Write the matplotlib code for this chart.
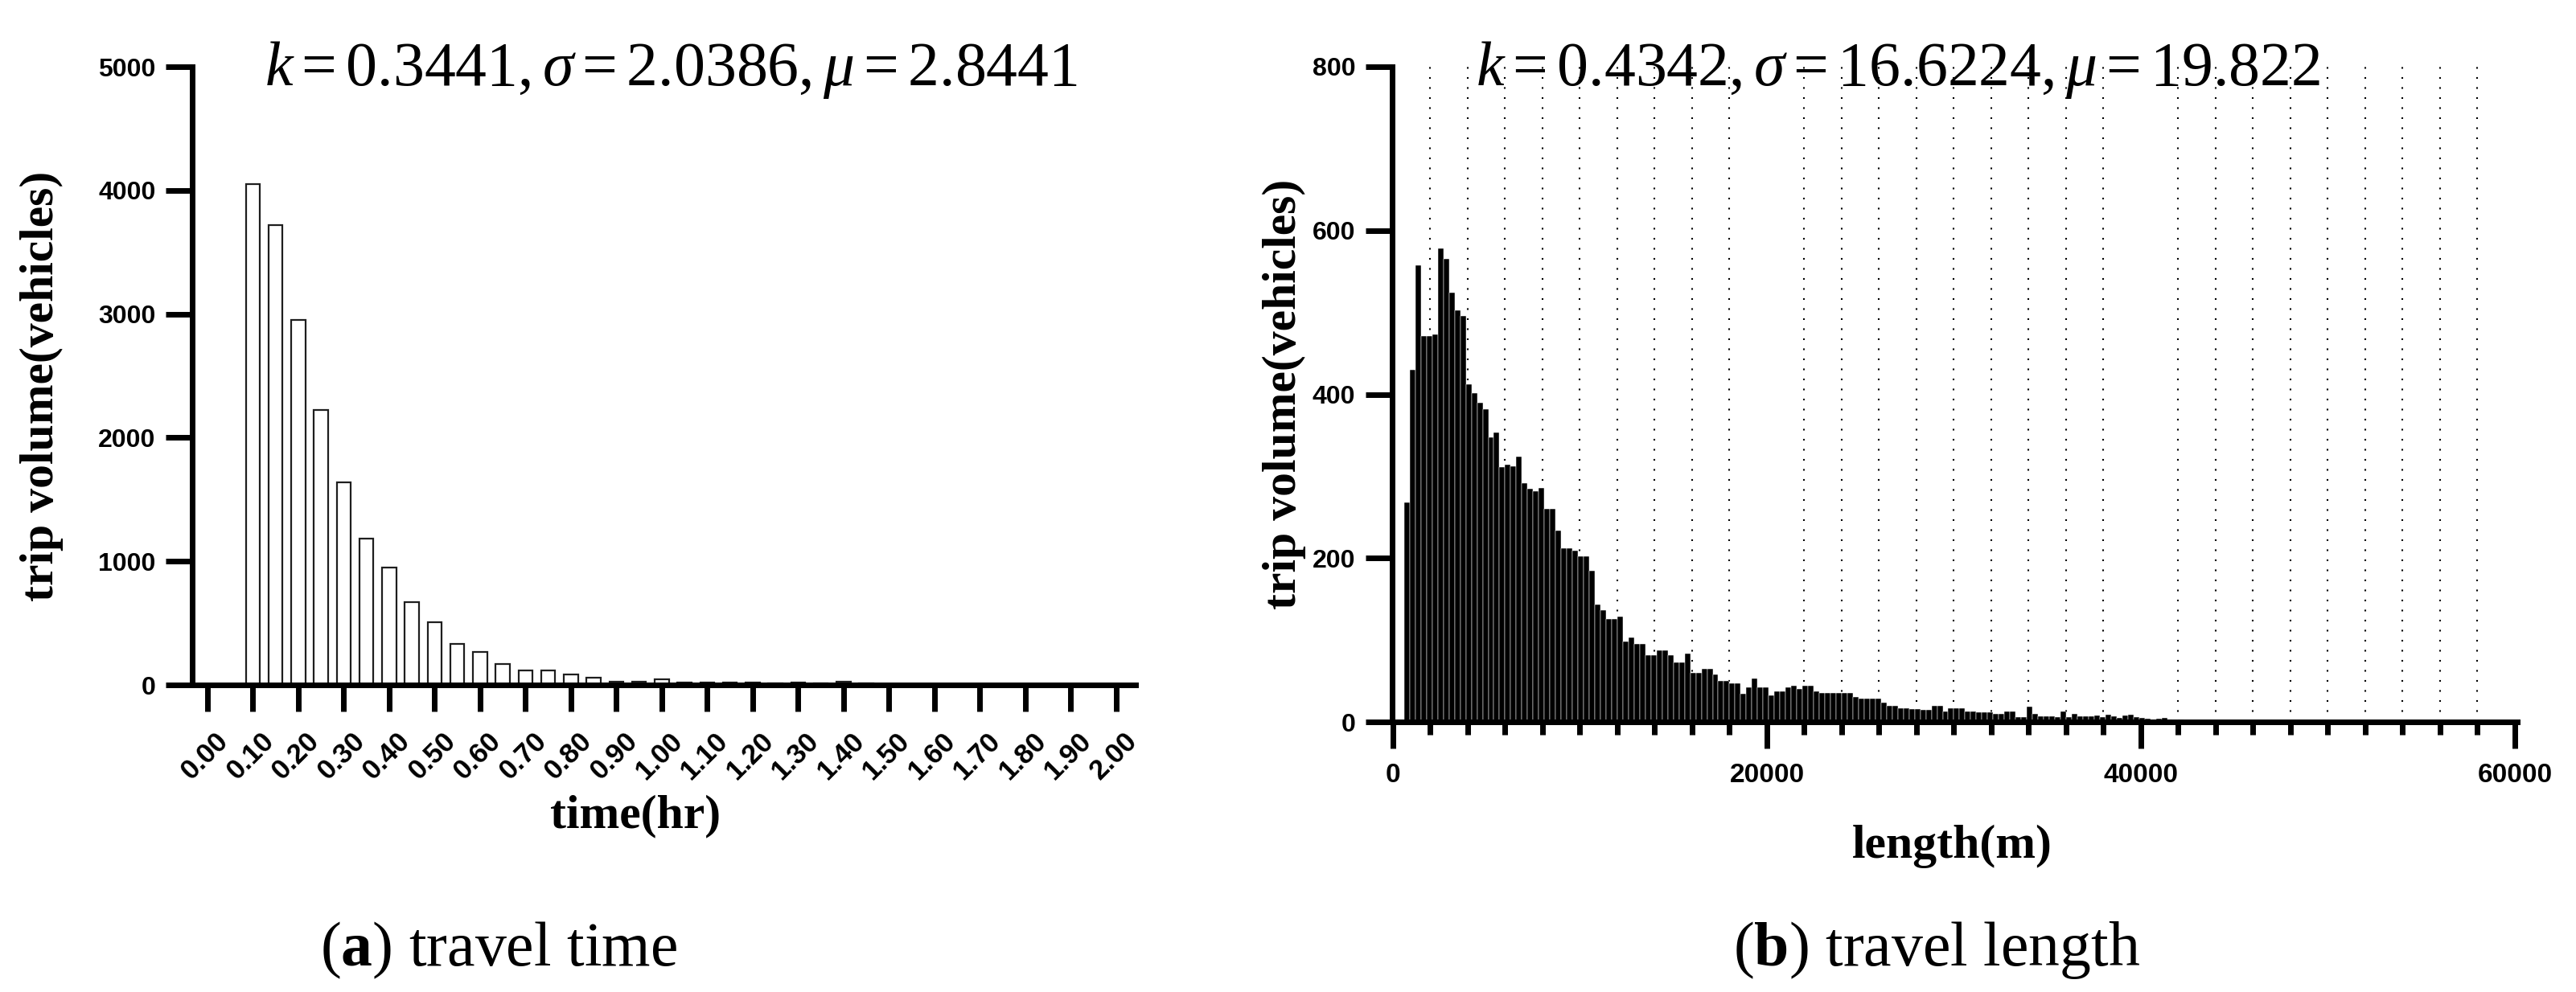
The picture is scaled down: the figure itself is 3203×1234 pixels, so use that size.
import numpy as np
import matplotlib
matplotlib.use("Agg")
import matplotlib.pyplot as plt
from matplotlib.ticker import MultipleLocator, FixedLocator
from matplotlib.transforms import ScaledTranslation

plt.rcParams['font.family'] = ['Liberation Sans', 'DejaVu Sans']
plt.rcParams['mathtext.fontset'] = 'custom'
plt.rcParams['mathtext.rm'] = 'Liberation Serif'
plt.rcParams['mathtext.it'] = 'Liberation Serif:italic'
plt.rcParams['mathtext.bf'] = 'Liberation Serif:bold'

# ---------------- data ----------------
# (a) travel time histogram: bin centres (hr) and trip counts
time_centers = [0.10, 0.15, 0.20, 0.25, 0.30, 0.35, 0.40, 0.45, 0.50, 0.55,
                0.60, 0.65, 0.70, 0.75, 0.80, 0.85, 0.90, 0.95, 1.00, 1.05,
                1.10, 1.15, 1.20, 1.25, 1.30, 1.35, 1.40, 1.45]
time_counts = [4050, 3720, 2950, 2225, 1640, 1185, 950, 670, 505, 330,
               268, 170, 115, 115, 82, 60, 28, 28, 43, 22,
               22, 22, 22, 15, 22, 15, 26, 15]
time_ticks = [round(0.1 * i, 2) for i in range(21)]
time_ticklabels = ["%.2f" % t for t in time_ticks]
time_yticks = [0, 1000, 2000, 3000, 4000, 5000]

# (b) travel length histogram: bins of 300 m starting at 600 m
length_bin_start = 600
length_bin_width = 300
length_counts = [268, 430, 558, 471, 471, 473, 578, 565, 524, 503,
                 496, 412, 401, 390, 382, 347, 353, 311, 314, 312,
                 324, 292, 285, 282, 286, 260, 260, 234, 212, 212,
                 209, 202, 202, 185, 143, 136, 126, 126, 129, 98,
                 103, 95, 95, 81, 81, 87, 87, 81, 73, 73,
                 83, 60, 60, 65, 65, 58, 50, 50, 47, 47,
                 34, 42, 53, 42, 42, 32, 37, 37, 42, 44,
                 40, 44, 44, 37, 35, 35, 35, 35, 35, 35,
                 30, 28, 28, 28, 28, 24, 20, 20, 17, 17,
                 16, 16, 15, 15, 20, 20, 13, 17, 17, 17,
                 13, 13, 12, 12, 12, 10, 10, 13, 13, 6,
                 6, 19, 10, 7, 7, 7, 6, 13, 6, 10,
                 7, 7, 7, 8, 6, 9, 7, 5, 8, 9,
                 6, 5, 4, 3, 4, 5, 3, 2, 3]
length_left_edges = length_bin_start + length_bin_width * np.arange(len(length_counts))
length_major_ticks = [0, 20000, 40000, 60000]
length_yticks = [0, 200, 400, 600, 800]

title_a = r"$k=0.3441,\sigma=2.0386,\mu=2.8441$"
title_b = r"$k=0.4342,\sigma=16.6224,\mu=19.822$"

# ---------------- figure ----------------
W, H = 3203, 1234
fig = plt.figure(figsize=(W / 100, H / 100), dpi=100)


def px_axes(l, t, r, b):
    return fig.add_axes([l / W, 1 - b / H, (r - l) / W, (b - t) / H])


def fx(x):
    return x / W


def fy(y):
    return 1 - y / H


LW = 5.0          # spine / tick width (pt)
MAJ = 23.8        # major tick length (pt)
ytick_font = dict(family=['Liberation Sans', 'DejaVu Sans'], weight='bold', size=23)
xtick_font_a = dict(family=['Liberation Sans', 'DejaVu Sans'], weight='bold', size=25)
xtick_font_b = dict(family=['Liberation Sans', 'DejaVu Sans'], weight='bold', size=24)
label_font = dict(family=['Liberation Serif', 'DejaVu Serif'], weight='bold', size=43)

# ----- panel (a) -----
ax1 = px_axes(239, 83, 1412, 852)
ax1.bar(time_centers, time_counts, width=0.031, facecolor='white',
        edgecolor='#1e1e1e', linewidth=1.6, zorder=2)
ax1.set_xlim(-0.0336, 2.0425)
ax1.set_ylim(0, 5000)
for s in ['top', 'right']:
    ax1.spines[s].set_visible(False)
for s in ['left', 'bottom']:
    ax1.spines[s].set_linewidth(LW)
ax1.xaxis.set_major_locator(FixedLocator(time_ticks))
ax1.set_xticklabels(time_ticklabels, rotation=45, ha='right', va='top',
                    rotation_mode='anchor', **xtick_font_a)
ax1.yaxis.set_major_locator(FixedLocator(time_yticks))
ax1.set_yticklabels([str(v) for v in time_yticks], **ytick_font)
ax1.tick_params(axis='both', direction='out', length=MAJ, width=LW)
ax1.tick_params(axis='x', pad=14)
ax1.tick_params(axis='y', pad=9)
off = ScaledTranslation(9 / 100, 0, fig.dpi_scale_trans)
for lab in ax1.get_xticklabels():
    lab.set_transform(lab.get_transform() + off)

ax1.set_xlabel("time(hr)", **label_font)
ax1.xaxis.set_label_coords(fx(790), fy(1015), transform=fig.transFigure)
ax1.xaxis.label.set_va('center')
ax1.set_ylabel("trip volume(vehicles)", **label_font)
ax1.yaxis.set_label_coords(fx(52), fy(480), transform=fig.transFigure)
ax1.yaxis.label.set_va('center')

fig.text(fx(834), fy(106), title_a, fontsize=56, ha='center', va='baseline')

# ----- panel (b) -----
ax2 = px_axes(1731, 83, 3130, 898)
ax2.bar(length_left_edges, length_counts, width=length_bin_width, align='edge',
        facecolor='black', edgecolor='white', linewidth=0.35, zorder=2)
ax2.set_xlim(-40, 60130)
ax2.set_ylim(0, 800)
for s in ['top', 'right']:
    ax2.spines[s].set_visible(False)
for s in ['left', 'bottom']:
    ax2.spines[s].set_linewidth(LW)
    ax2.spines[s].set_zorder(3)
ax2.xaxis.set_major_locator(FixedLocator(length_major_ticks))
ax2.xaxis.set_minor_locator(MultipleLocator(2000))
ax2.set_xticklabels([str(v) for v in length_major_ticks], **xtick_font_b)
ax2.yaxis.set_major_locator(FixedLocator(length_yticks))
ax2.set_yticklabels([str(v) for v in length_yticks], **ytick_font)
ax2.tick_params(axis='both', which='major', direction='out', length=MAJ, width=LW)
ax2.tick_params(axis='x', which='minor', direction='out', length=11.5, width=LW)
ax2.tick_params(axis='x', which='major', pad=13)
ax2.tick_params(axis='y', pad=9)
ax2.set_axisbelow(True)
ax2.grid(which='minor', axis='x', color='black', linestyle=(0, (1, 5)),
         linewidth=1.5, zorder=1)

ax2.set_xlabel("length(m)", **label_font)
ax2.xaxis.set_label_coords(fx(2427), fy(1053), transform=fig.transFigure)
ax2.xaxis.label.set_va('center')
ax2.set_ylabel("trip volume(vehicles)", **label_font)
ax2.yaxis.set_label_coords(fx(1597), fy(490), transform=fig.transFigure)
ax2.yaxis.label.set_va('center')

fig.text(fx(2360), fy(106), title_b, fontsize=56, ha='center', va='baseline')

# ----- captions -----
cap_font = dict(family=['Liberation Serif', 'DejaVu Serif'], weight='normal', size=56)
fig.text(fx(620), fy(1182), r"$(\mathbf{a})$ travel time", ha='center', va='center', **cap_font)
fig.text(fx(2408), fy(1182), r"$(\mathbf{b})$ travel length", ha='center', va='center', **cap_font)

fig.savefig("out.png", dpi=100, facecolor='white')
